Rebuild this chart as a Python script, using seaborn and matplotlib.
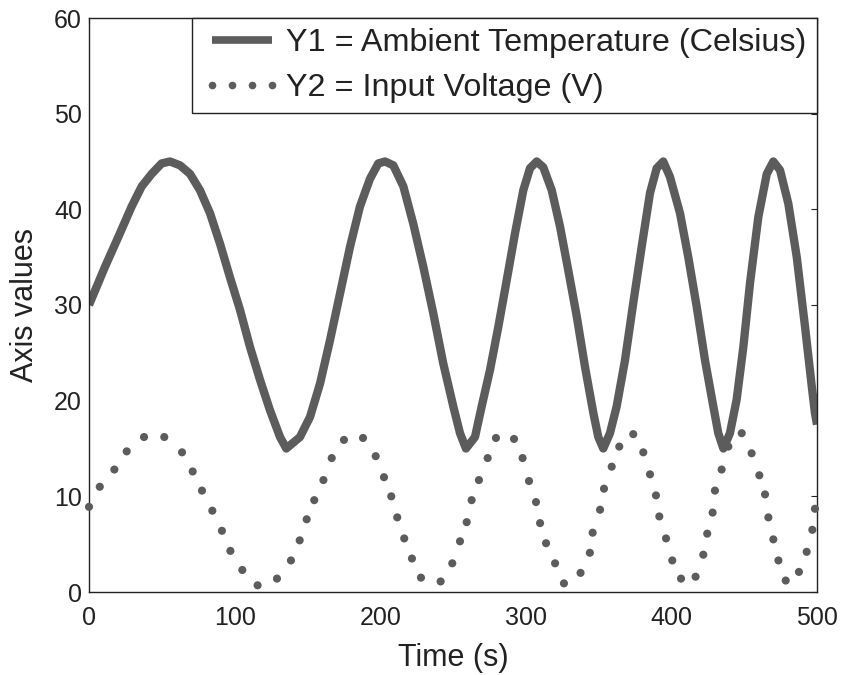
import matplotlib
matplotlib.use("Agg")
import matplotlib.pyplot as plt
from matplotlib.lines import Line2D
import seaborn as sns
import pandas as pd

# ---- data ----
t_temp = [0, 11.0, 20.1, 29.3, 36.2, 43.0, 49.9, 55.6, 62.5, 69.4, 76.2, 83.1, 90.0, 96.8,
          103.7, 110.6, 117.4, 124.3, 131.2, 135.5, 144.9, 151.8, 158.7, 165.5, 172.4, 179.3,
          186.1, 193.0, 198.7, 203.3, 209.0, 215.9, 222.7, 229.6, 236.5, 243.3, 250.2, 254.8,
          258.9, 265.1, 269.7, 275.4, 281.1, 286.9, 292.6, 298.3, 302.9, 307.5, 312.0, 317.8,
          323.5, 329.2, 335.0, 340.7, 346.4, 349.8, 353.2, 357.8, 362.4, 368.1, 373.8, 379.6,
          385.3, 389.9, 394.4, 399.0, 405.9, 411.6, 417.4, 423.1, 428.8, 432.2, 435.7, 440.2,
          444.8, 449.4, 454.0, 459.7, 465.5, 470.0, 474.6, 480.3, 486.1, 491.8, 496.4, 498.6, 500]
temperature = [30.0, 34.0, 37.1, 40.3, 42.4, 43.7, 44.8, 45.0, 44.6, 43.7, 42.0, 39.6, 36.4, 32.9,
               29.5, 25.6, 22.2, 19.0, 16.2, 15.0, 16.2, 18.3, 21.8, 26.3, 31.2, 36.1,
               40.3, 43.2, 44.8, 45.0, 44.6, 42.4, 38.5, 34.0, 29.1, 23.9, 19.4, 16.6,
               15.0, 16.2, 19.4, 23.2, 27.7, 32.6, 37.5, 42.0, 44.3, 45.0, 44.4, 42.0,
               38.2, 33.6, 28.8, 23.5, 18.7, 16.2, 15.0, 16.6, 19.4, 24.2, 30.2, 36.1,
               41.7, 44.3, 45.0, 43.4, 39.6, 35.0, 29.8, 24.2, 19.4, 16.6, 15.0, 16.6,
               20.1, 25.6, 32.3, 39.2, 43.7, 45.0, 44.1, 40.6, 35.0, 27.7, 21.5, 18.7, 17.5]

t_volt = [0, 7.4, 17.4, 25.9, 37.8, 51.7, 63.9, 71.2, 77.6, 84.7, 91.3, 97.1, 105.3, 115.8,
          129.1, 138.7, 144.7, 149.5, 154.7, 161.0, 166.7, 175.1, 188.2, 196.9, 202.6, 207.6,
          211.7, 216.5, 221.8, 228.0, 241.5, 249.5, 254.8, 259.4, 262.8, 267.8, 273.8, 279.5,
          291.9, 297.8, 302.2, 307.0, 309.8, 313.9, 320.1, 326.2, 337.6, 344.0, 345.9, 351.0,
          353.7, 359.0, 364.2, 373.8, 380.7, 385.3, 389.4, 391.7, 396.3, 400.6, 406.6, 416.6,
          421.9, 424.6, 428.3, 429.9, 434.5, 439.1, 448.3, 455.1, 460.4, 464.3, 466.6, 470.0,
          473.5, 478.5, 487.6, 492.9, 496.8, 498.6]
voltage = [8.9, 11.0, 12.8, 14.7, 16.2, 16.2, 14.6, 12.6, 10.6, 8.5, 6.4, 4.3, 2.3, 0.7,
           1.4, 3.3, 5.4, 7.6, 9.6, 11.7, 14.0, 15.9, 16.1, 14.2, 12.0, 10.0,
           7.8, 5.6, 3.5, 1.5, 1.1, 3.0, 5.3, 7.3, 9.6, 11.7, 14.0, 16.1,
           16.0, 14.0, 11.6, 9.4, 7.2, 5.1, 3.0, 0.9, 2.0, 4.1, 6.2, 8.6,
           10.8, 13.1, 15.2, 16.5, 14.6, 12.3, 10.1, 7.9, 5.6, 3.3, 1.4, 1.6,
           3.9, 6.1, 8.3, 10.6, 12.8, 15.2, 16.6, 14.5, 12.2, 10.2, 7.8, 5.5,
           3.3, 1.2, 2.1, 4.2, 6.5, 8.7]

label_y1 = "Y1 = Ambient Temperature (Celsius)"
label_y2 = "Y2 = Input Voltage (V)"
x_ticks = [0, 100, 200, 300, 400, 500]
y_ticks = [0, 10, 20, 30, 40, 50, 60]

df1 = pd.DataFrame({"t": t_temp, "v": temperature})
df2 = pd.DataFrame({"t": t_volt, "v": voltage})

sns.set_theme(style="white")
plt.rcParams["font.family"] = ["Liberation Sans", "DejaVu Sans"]

fig = plt.figure(figsize=(8.44, 6.75), dpi=100)
ax = fig.add_axes([89 / 844, (675 - 592) / 675, 728 / 844, 574 / 675])

line_col = "#5c5c5c"
sns.lineplot(data=df1, x="t", y="v", ax=ax, color=line_col, lw=6,
             solid_capstyle="butt", solid_joinstyle="round")
sns.scatterplot(data=df2, x="t", y="v", ax=ax, color=line_col, s=34,
                marker="o", edgecolor="none", zorder=3, clip_on=False)

ax.set_xlim(0, 500)
ax.set_ylim(0, 60)
ax.set_xticks(x_ticks)
ax.set_yticks(y_ticks)
ax.tick_params(direction="in", length=4, width=0.8, top=True, right=True,
               labelsize=18, colors="#222222")
ax.tick_params(axis="x", pad=10)
ax.tick_params(axis="y", pad=5)
for s in ax.spines.values():
    s.set_color("#222222")
    s.set_linewidth(1.0)
ax.set_xlabel("Time (s)", fontsize=22, color="#222222", labelpad=9.5)
ax.set_ylabel("Axis values", fontsize=22, color="#222222", labelpad=10)

handles = [Line2D([], [], color=line_col, lw=5.5, solid_capstyle="butt"),
           Line2D([], [], color=line_col, ls="none", marker="o", markersize=5.5,
                  markeredgewidth=0)]
leg = ax.legend(handles, [label_y1, label_y2], loc="upper right",
                bbox_to_anchor=(1, 1), borderaxespad=0, fontsize=23.3,
                handlelength=2.45, handletextpad=0.15, borderpad=0.32,
                labelspacing=0.45, numpoints=4, frameon=True, fancybox=False,
                framealpha=1, edgecolor="#222222")
leg.get_frame().set_linewidth(1.0)
for txt in leg.get_texts():
    txt.set_color("#222222")

fig.savefig("out.png", dpi=100)
